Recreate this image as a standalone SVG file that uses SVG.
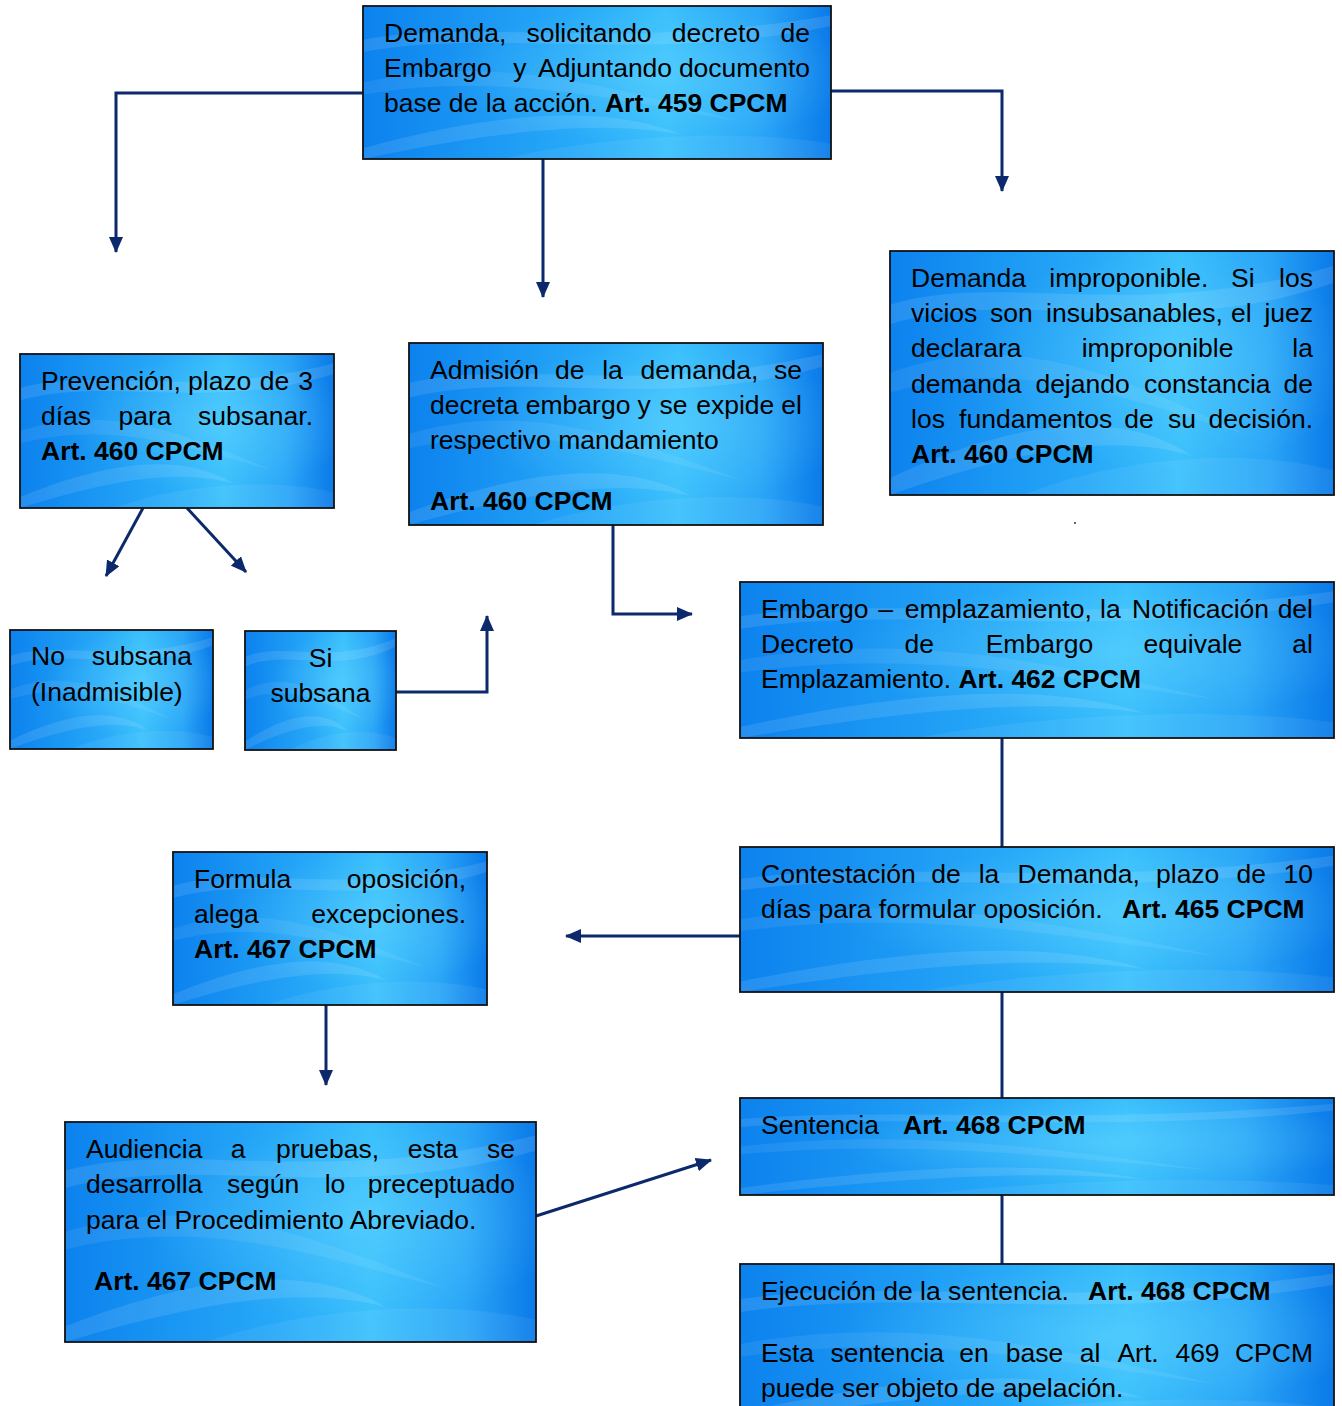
<svg xmlns="http://www.w3.org/2000/svg" width="1342" height="1406" viewBox="0 0 1342 1406">
<defs>
<linearGradient id="gbase" x1="0" y1="0" x2="1" y2="0">
<stop offset="0" stop-color="#0c82ee"/>
<stop offset="0.45" stop-color="#27a9f8"/>
<stop offset="0.65" stop-color="#3ac0fc"/>
<stop offset="0.85" stop-color="#2ba6f7"/>
<stop offset="1" stop-color="#0a7ae9"/>
</linearGradient>
<radialGradient id="ghi" cx="0.62" cy="0.45" r="0.45">
<stop offset="0" stop-color="#6fdcff" stop-opacity="0.4"/>
<stop offset="1" stop-color="#6fdcff" stop-opacity="0"/>
</radialGradient>
<pattern id="bg" patternUnits="objectBoundingBox" patternContentUnits="objectBoundingBox" width="1" height="1">
<rect width="1" height="1" fill="url(#gbase)"/>
<rect width="1" height="1" fill="url(#ghi)"/>
<path d="M0,0.22 C0.25,0.08 0.55,0.3 1,0.06 L1,0.13 C0.6,0.38 0.28,0.14 0,0.3 Z" fill="#ffffff" opacity="0.1"/>
<path d="M0,0.5 C0.3,0.3 0.55,0.55 0.8,0.75 C0.55,0.62 0.3,0.42 0,0.58 Z" fill="#ffffff" opacity="0.07"/>
<path d="M0,0.93 C0.25,0.72 0.5,0.62 0.68,0.84 C0.5,0.74 0.28,0.82 0,1 Z" fill="#ffffff" opacity="0.1"/>
<path d="M0.3,1 C0.5,0.85 0.8,0.8 1,0.9 L1,1 Z" fill="#ffffff" opacity="0.06"/>
</pattern>
<marker id="arr" markerUnits="userSpaceOnUse" markerWidth="16" markerHeight="14" refX="15" refY="7" orient="auto">
<path d="M0,0 L16,7 L0,14 Z" fill="#0c2a6b"/>
</marker>
<style>
.box{fill:url(#bg);stroke:#111111;stroke-width:1.8}
.t{font-family:"Liberation Sans",Arial,sans-serif;font-size:26.5px;fill:#000}
.b{font-weight:bold}
.e{text-anchor:end}
.m{text-anchor:middle}
.c{fill:none;stroke:#0c2a6b;stroke-width:3}
.a{marker-end:url(#arr)}
</style>
</defs>

<g id="connectors">
<path class="c a" d="M363,93 H116 V252"/>
<path class="c a" d="M543,159 V297"/>
<path class="c a" d="M831,91 H1002 V191"/>
<path class="c a" d="M143,508 L106,576"/>
<path class="c a" d="M187,508 L246,572"/>
<path class="c a" d="M396,692 H487 V616"/>
<path class="c a" d="M613,525 V614 H692"/>
<path class="c" d="M1002,738 V847"/>
<path class="c a" d="M740,936 H566"/>
<path class="c" d="M1002,992 V1098"/>
<path class="c" d="M1002,1195 V1264"/>
<path class="c a" d="M326,1005 V1085"/>
<path class="c a" d="M536,1216 L711,1160"/>
</g>

<g id="n-demanda">
<rect class="box" x="363" y="6" width="468" height="153"/>
<text class="t" x="384" y="42">Demanda,</text>
<text class="t" x="526.4" y="42">solicitando</text>
<text class="t" x="671.8" y="42">decreto</text>
<text class="t e" x="810" y="42">de</text>
<text class="t" x="384" y="77">Embargo</text>
<text class="t" x="513.2" y="77">y</text>
<text class="t" x="538" y="77">Adjuntando</text>
<text class="t e" x="810" y="77">documento</text>
<text class="t" x="384" y="112">base de la acción. <tspan class="b">Art. 459 CPCM</tspan></text>
</g>

<g id="n-prevencion">
<rect class="box" x="20" y="354" width="314" height="154"/>
<text class="t" x="41" y="390">Prevención,</text>
<text class="t" x="188" y="390">plazo</text>
<text class="t" x="259.8" y="390">de</text>
<text class="t e" x="313" y="390">3</text>
<text class="t" x="41" y="425">días</text>
<text class="t" x="118.5" y="425">para</text>
<text class="t e" x="313" y="425">subsanar.</text>
<text class="t b" x="41" y="460">Art. 460 CPCM</text>
</g>

<g id="n-admision">
<rect class="box" x="409" y="343" width="414" height="182"/>
<text class="t" x="430" y="379">Admisión</text>
<text class="t" x="555.1" y="379">de</text>
<text class="t" x="602.2" y="379">la</text>
<text class="t" x="640.6" y="379">demanda,</text>
<text class="t e" x="802" y="379">se</text>
<text class="t" x="430" y="414">decreta</text>
<text class="t" x="525.8" y="414">embargo</text>
<text class="t" x="637.5" y="414">y</text>
<text class="t" x="659.6" y="414">se</text>
<text class="t" x="696.2" y="414">expide</text>
<text class="t e" x="802" y="414">el</text>
<text class="t" x="430" y="449">respectivo mandamiento</text>
<text class="t b" x="430" y="510">Art. 460 CPCM</text>
</g>

<g id="n-improponible">
<rect class="box" x="890" y="251" width="444" height="244"/>
<text class="t" x="911" y="287">Demanda</text>
<text class="t" x="1049.3" y="287">improponible.</text>
<text class="t" x="1231" y="287">Si</text>
<text class="t e" x="1313" y="287">los</text>
<text class="t" x="911" y="322">vicios</text>
<text class="t" x="990.1" y="322">son</text>
<text class="t" x="1046.1" y="322">insubsanables,</text>
<text class="t" x="1231" y="322">el</text>
<text class="t e" x="1313" y="322">juez</text>
<text class="t" x="911" y="357">declarara</text>
<text class="t" x="1081.7" y="357">improponible</text>
<text class="t e" x="1313" y="357">la</text>
<text class="t" x="911" y="393">demanda</text>
<text class="t" x="1035.4" y="393">dejando</text>
<text class="t" x="1143.9" y="393">constancia</text>
<text class="t e" x="1313" y="393">de</text>
<text class="t" x="911" y="428">los</text>
<text class="t" x="959.1" y="428">fundamentos</text>
<text class="t" x="1124.3" y="428">de</text>
<text class="t" x="1168.1" y="428">su</text>
<text class="t e" x="1313" y="428">decisión.</text>
<text class="t b" x="911" y="463">Art. 460 CPCM</text>
</g>

<circle cx="1075" cy="523" r="1" fill="#333"/>

<g id="n-nosubsana">
<rect class="box" x="10" y="630" width="203" height="119"/>
<text class="t" x="31" y="665">No</text>
<text class="t e" x="192" y="665">subsana</text>
<text class="t" x="31" y="701">(Inadmisible)</text>
</g>

<g id="n-sisubsana">
<rect class="box" x="245" y="631" width="151" height="119"/>
<text class="t m" x="320.5" y="667">Si</text>
<text class="t m" x="320.5" y="702">subsana</text>
</g>

<g id="n-embargo">
<rect class="box" x="740" y="582" width="594" height="156"/>
<text class="t" x="761" y="618">Embargo</text>
<text class="t" x="878.3" y="618">–</text>
<text class="t" x="904.7" y="618">emplazamiento,</text>
<text class="t" x="1100" y="618">la</text>
<text class="t" x="1132.1" y="618">Notificación</text>
<text class="t e" x="1313" y="618">del</text>
<text class="t" x="761" y="653">Decreto</text>
<text class="t" x="904.4" y="653">de</text>
<text class="t" x="985.7" y="653">Embargo</text>
<text class="t" x="1143.6" y="653">equivale</text>
<text class="t e" x="1313" y="653">al</text>
<text class="t" x="761" y="688">Emplazamiento. <tspan class="b">Art. 462 CPCM</tspan></text>
</g>

<g id="n-contestacion">
<rect class="box" x="740" y="847" width="594" height="145"/>
<text class="t" x="761" y="883">Contestación</text>
<text class="t" x="931.3" y="883">de</text>
<text class="t" x="978.7" y="883">la</text>
<text class="t" x="1017.5" y="883">Demanda,</text>
<text class="t" x="1156" y="883">plazo</text>
<text class="t" x="1236.6" y="883">de</text>
<text class="t e" x="1313" y="883">10</text>
<text class="t" x="761" y="918">días para formular oposición.</text>
<text class="t b" x="1122" y="918">Art. 465 CPCM</text>
</g>

<g id="n-formula">
<rect class="box" x="173" y="852" width="314" height="153"/>
<text class="t" x="194" y="888">Formula</text>
<text class="t e" x="466" y="888">oposición,</text>
<text class="t" x="194" y="923">alega</text>
<text class="t e" x="466" y="923">excepciones.</text>
<text class="t b" x="194" y="958">Art. 467 CPCM</text>
</g>

<g id="n-audiencia">
<rect class="box" x="65" y="1122" width="471" height="220"/>
<text class="t" x="86" y="1158">Audiencia</text>
<text class="t" x="230.8" y="1158">a</text>
<text class="t" x="275.9" y="1158">pruebas,</text>
<text class="t" x="407.7" y="1158">esta</text>
<text class="t e" x="515" y="1158">se</text>
<text class="t" x="86" y="1193">desarrolla</text>
<text class="t" x="227" y="1193">según</text>
<text class="t" x="324.7" y="1193">lo</text>
<text class="t e" x="515" y="1193">preceptuado</text>
<text class="t" x="86" y="1229">para el Procedimiento Abreviado.</text>
<text class="t b" x="94" y="1290">Art. 467 CPCM</text>
</g>

<g id="n-sentencia">
<rect class="box" x="740" y="1098" width="594" height="97"/>
<text class="t" x="761" y="1134">Sentencia</text>
<text class="t b" x="903" y="1134">Art. 468 CPCM</text>
</g>

<g id="n-ejecucion">
<rect class="box" x="740" y="1264" width="594" height="160"/>
<text class="t" x="761" y="1300">Ejecución de la sentencia.</text>
<text class="t b" x="1088" y="1300">Art. 468 CPCM</text>
<text class="t" x="761" y="1362">Esta</text>
<text class="t" x="830.5" y="1362">sentencia</text>
<text class="t" x="959.3" y="1362">en</text>
<text class="t" x="1005.8" y="1362">base</text>
<text class="t" x="1079.7" y="1362">al</text>
<text class="t" x="1117.4" y="1362">Art.</text>
<text class="t" x="1175.4" y="1362">469</text>
<text class="t e" x="1313" y="1362">CPCM</text>
<text class="t" x="761" y="1397">puede ser objeto de apelación.</text>
</g>
</svg>
